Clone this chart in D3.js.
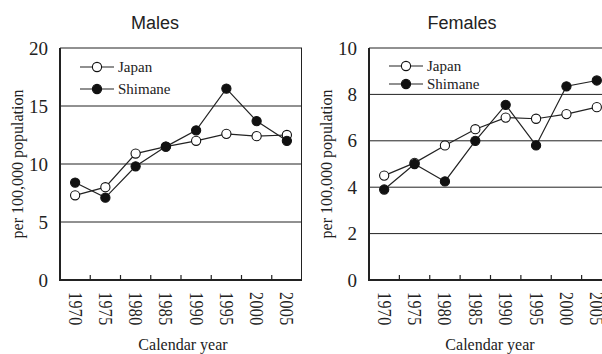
<!DOCTYPE html>
<html>
<head>
<meta charset="utf-8">
<script src="https://cdn.jsdelivr.net/npm/d3@7"></script>
<style>
  body { margin: 0; background: #fff; }
  svg { display: block; }
  .serif { font-family: "Liberation Serif", "Times New Roman", serif; fill: #222; }
  .title { font-family: "Liberation Sans", Arial, sans-serif; font-size: 18px; fill: #222; }
</style>
</head>
<body>
<svg id="chart" width="602" height="354"></svg>
<script>
// Rates per 100,000 population
const years = ['1970', '1975', '1980', '1985', '1990', '1995', '2000', '2005'];
const malesJapan = [7.3, 8.0, 10.9, 11.5, 12.0, 12.6, 12.4, 12.5];
const malesShimane = [8.4, 7.1, 9.8, 11.5, 12.9, 16.5, 13.7, 12.0];
const femalesJapan = [4.5, 5.05, 5.8, 6.5, 7.0, 6.95, 7.15, 7.45];
const femalesShimane = [3.9, 5.0, 4.25, 6.0, 7.55, 5.8, 8.35, 8.6];
const maleTicks = [0, 5, 10, 15, 20];
const femaleTicks = [0, 2, 4, 6, 8, 10];
const seriesNames = ['Japan', 'Shimane'];

const svg = d3.select('#chart');

function drawPanel(opt) {
  const g = svg.append('g');
  const x = d3.scaleBand().domain(years).range([opt.left, opt.right]);
  const y = d3.scaleLinear().domain([0, opt.max]).range([280, 48]);

  // title
  g.append('text').attr('class', 'title')
    .attr('x', opt.titleX).attr('y', 29)
    .attr('text-anchor', 'middle').text(opt.title);

  // gridlines
  g.append('g').selectAll('line')
    .data(opt.ticks.filter((t) => t > 0 && t < opt.max))
    .join('line')
    .attr('x1', opt.left).attr('x2', opt.right)
    .attr('y1', (d) => y(d)).attr('y2', (d) => y(d))
    .attr('stroke', '#222').attr('stroke-width', 1);

  // frame: top + right thin, left + bottom thick
  g.append('line').attr('x1', opt.left).attr('x2', opt.right)
    .attr('y1', y(opt.max)).attr('y2', y(opt.max))
    .attr('stroke', '#222').attr('stroke-width', 1);
  g.append('line').attr('x1', opt.right - 0.5).attr('x2', opt.right - 0.5)
    .attr('y1', y(opt.max)).attr('y2', y(0))
    .attr('stroke', '#222').attr('stroke-width', 1);
  g.append('line').attr('x1', opt.left).attr('x2', opt.left)
    .attr('y1', y(opt.max)).attr('y2', y(0) + 1)
    .attr('stroke', '#222').attr('stroke-width', 2);
  g.append('line').attr('x1', opt.left).attr('x2', opt.right)
    .attr('y1', y(0)).attr('y2', y(0))
    .attr('stroke', '#222').attr('stroke-width', 2);

  // inner tick marks at band boundaries
  g.append('g').selectAll('line')
    .data(years.slice(1))
    .join('line')
    .attr('x1', (d) => x(d)).attr('x2', (d) => x(d))
    .attr('y1', y(0)).attr('y2', y(0) - 5)
    .attr('stroke', '#222').attr('stroke-width', 1.2);

  // y tick labels
  g.append('g').selectAll('text')
    .data(opt.ticks)
    .join('text')
    .attr('class', 'serif')
    .attr('x', opt.left - 12).attr('y', (d) => y(d) + 6.5)
    .attr('text-anchor', 'end')
    .style('font-size', '19px')
    .text((d) => d);

  // x tick labels (rotated, digits a little stretched as in the print)
  g.append('g').selectAll('text')
    .data(years)
    .join('text')
    .attr('class', 'serif')
    .attr('transform', (d) => `translate(${x(d) + x.bandwidth() / 2},292) rotate(90) scale(1,1.15)`)
    .attr('dy', '0.35em')
    .style('font-size', '16px')
    .style('letter-spacing', '0.4px')
    .text((d) => d);

  // axis titles
  g.append('text').attr('class', 'serif')
    .attr('transform', `translate(${opt.left - 37},164) rotate(-90)`)
    .attr('text-anchor', 'middle')
    .style('font-size', '16px')
    .text('per 100,000 population');
  g.append('text').attr('class', 'serif')
    .attr('x', opt.xLabelX).attr('y', 350)
    .attr('text-anchor', 'middle')
    .style('font-size', '16px')
    .text('Calendar year');

  // series
  const line = d3.line()
    .x((d, i) => x(years[i]) + x.bandwidth() / 2)
    .y((d) => y(d));
  const series = [
    { name: seriesNames[0], values: opt.japan, fill: '#fff' },
    { name: seriesNames[1], values: opt.shimane, fill: '#111' },
  ];
  series.forEach((s) => {
    g.append('path').datum(s.values)
      .attr('d', line)
      .attr('fill', 'none').attr('stroke', '#222').attr('stroke-width', 1.2);
  });
  series.forEach((s) => {
    g.append('g').selectAll('circle')
      .data(s.values)
      .join('circle')
      .attr('cx', (d, i) => x(years[i]) + x.bandwidth() / 2)
      .attr('cy', (d) => y(d))
      .attr('r', 4.6)
      .attr('fill', s.fill).attr('stroke', '#111').attr('stroke-width', 1.1);
  });

  // legend
  series.forEach((s, i) => {
    const ly = opt.legendY + i * opt.legendGap;
    const lx = opt.left + 20;
    g.append('line').attr('x1', lx).attr('x2', lx + 34)
      .attr('y1', ly).attr('y2', ly)
      .attr('stroke', '#222').attr('stroke-width', 1.2);
    g.append('circle').attr('cx', lx + 17).attr('cy', ly).attr('r', 4.6)
      .attr('fill', s.fill).attr('stroke', '#111').attr('stroke-width', 1.1);
    g.append('text').attr('class', 'serif')
      .attr('x', lx + 38).attr('y', ly + 5)
      .style('font-size', '15px')
      .text(s.name);
  });
}

drawPanel({
  title: 'Males', titleX: 155, xLabelX: 183,
  left: 60, right: 302, max: 20, ticks: maleTicks,
  japan: malesJapan, shimane: malesShimane,
  legendY: 67, legendGap: 22,
});

drawPanel({
  title: 'Females', titleX: 462, xLabelX: 490,
  left: 369, right: 612, max: 10, ticks: femaleTicks,
  japan: femalesJapan, shimane: femalesShimane,
  legendY: 66, legendGap: 18,
});
</script>
</body>
</html>
